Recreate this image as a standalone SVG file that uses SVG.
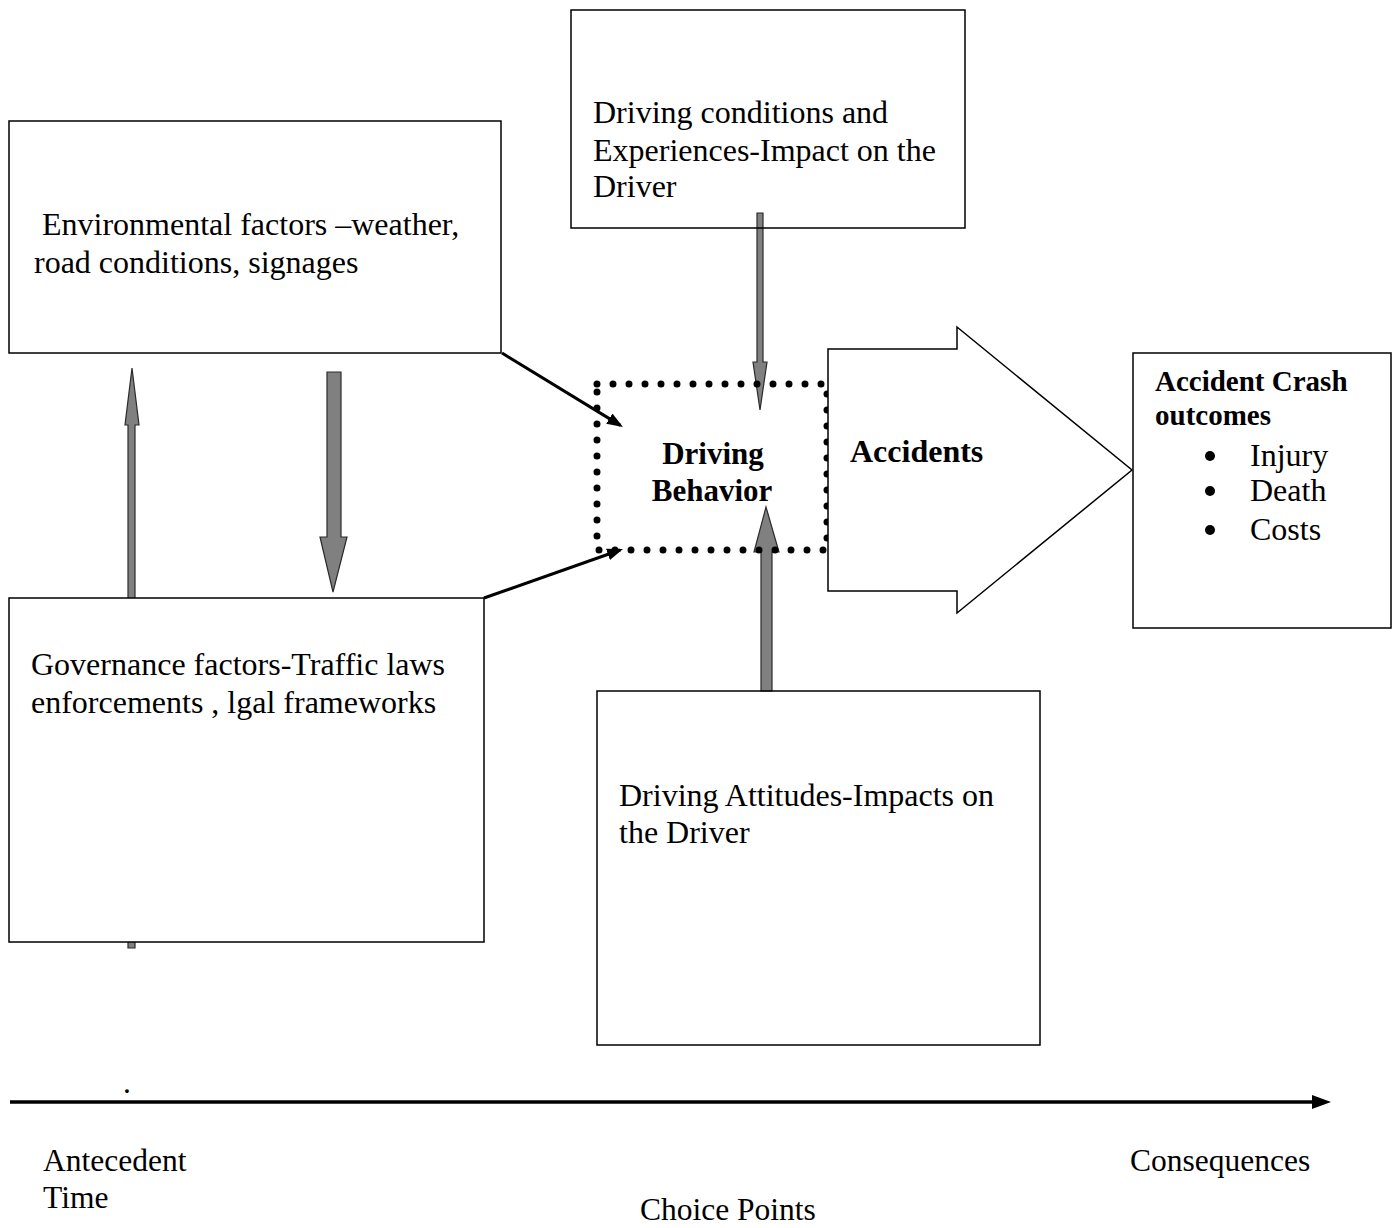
<svg xmlns="http://www.w3.org/2000/svg" width="1400" height="1228" viewBox="0 0 1400 1228">
<style>
text{font-family:"Liberation Serif","Times New Roman",serif;fill:#000;font-size:32px}
.b{font-weight:bold}
.lbl{font-size:31.5px}
.bh{font-size:31px}
.oc{font-size:29px}
.box{fill:none;stroke:#000;stroke-width:1.5}
.gray{fill:#808080;stroke:#2a2a2a;stroke-width:1.2}
.blk{stroke:#000;stroke-width:3;fill:none}
</style>
<defs>
<marker id="ah" markerUnits="userSpaceOnUse" markerWidth="18" markerHeight="14" refX="13" refY="6" orient="auto">
<path d="M0,0 L16,6 L0,12 z" fill="#000"/>
</marker>
</defs>
<rect width="1400" height="1228" fill="#fff"/>

<g id="connectors">
<polygon class="gray" points="128,948 128,425 125,425 132,368 139,425 135,425 135,948"/>
<polygon class="gray" points="327,372 341,372 341,537 347,537 333,592 320,537 327,537"/>
<polygon class="gray" points="757,213 763,213 763,362 767,362 760,410 753,362 757,362"/>
<polygon class="gray" points="761,691 772,691 772,552 779,552 766,507 754,552 761,552"/>
<line class="blk" x1="502" y1="353" x2="620.4" y2="425.4" marker-end="url(#ah)"/>
<line class="blk" x1="484" y1="598" x2="620.2" y2="550" marker-end="url(#ah)"/>
<line x1="10" y1="1102" x2="1314" y2="1102" stroke="#000" stroke-width="3.5"/>
<polygon points="1312,1095 1331,1102 1312,1109" fill="#000"/>
</g>

<g id="node-conditions">
<rect class="box" x="571" y="10" width="394" height="218"/>
<text x="593" y="123">Driving conditions and</text>
<text x="593" y="161">Experiences-Impact on the</text>
<text x="593" y="197">Driver</text>
</g>

<g id="node-environment">
<rect class="box" x="9" y="121" width="492" height="232"/>
<text x="34" y="235" xml:space="preserve"> Environmental factors –weather,</text>
<text x="34" y="273">road conditions, signages</text>
</g>

<g id="node-governance">
<rect x="9" y="598" width="475" height="344" fill="#fff" stroke="#000" stroke-width="1.5"/>
<text x="31" y="675">Governance factors-Traffic laws</text>
<text x="31" y="713">enforcements , lgal frameworks</text>
</g>

<g id="node-attitudes">
<rect class="box" x="597" y="691" width="443" height="354"/>
<text x="619" y="806">Driving Attitudes-Impacts on</text>
<text x="619" y="843">the Driver</text>
</g>

<g id="node-behavior">
<rect x="597" y="384" width="230" height="166" fill="none" stroke="#000" stroke-width="7" stroke-linecap="round" stroke-dasharray="0 16"/>
<text class="b bh" x="713" y="464" text-anchor="middle">Driving</text>
<text class="b bh" x="712" y="501" text-anchor="middle">Behavior</text>
</g>

<g id="node-accidents">
<polygon points="828,349 957,349 957,327 1132,470 957,613 957,591 828,591" fill="#fff" stroke="#000" stroke-width="1.5"/>
<text class="b" x="850" y="462">Accidents</text>
</g>

<g id="node-outcomes">
<rect class="box" x="1133" y="353" width="258" height="275"/>
<text class="b oc" x="1155" y="391">Accident Crash</text>
<text class="b oc" x="1155" y="425">outcomes</text>
<circle cx="1210" cy="456" r="5"/>
<text x="1250" y="466">Injury</text>
<circle cx="1210" cy="491" r="5"/>
<text x="1250" y="501">Death</text>
<circle cx="1210" cy="530" r="5"/>
<text x="1250" y="540">Costs</text>
</g>

<g id="labels">
<text class="lbl" x="123" y="1093">.</text>
<text class="lbl" x="43" y="1171">Antecedent</text>
<text class="lbl" x="43" y="1208">Time</text>
<text class="lbl" x="640" y="1220">Choice Points</text>
<text class="lbl" x="1130" y="1171">Consequences</text>
</g>
</svg>
